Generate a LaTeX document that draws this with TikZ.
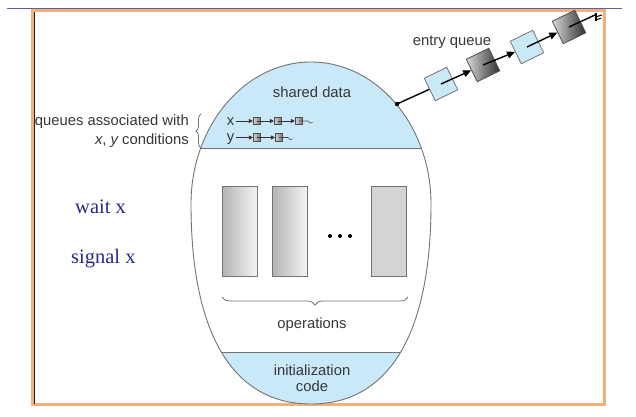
\documentclass[tikz,border=0pt]{standalone}
\usepackage{fontspec}
\newfontfamily\lsans{Liberation Sans}
\newfontfamily\lserif{Liberation Serif}
\usetikzlibrary{arrows.meta,decorations.pathreplacing}

\definecolor{shared}{RGB}{201,233,249}
\definecolor{txtgray}{RGB}{55,55,55}
\definecolor{edgegray}{RGB}{115,115,115}
\definecolor{frameorange}{RGB}{238,178,122}
\definecolor{topline}{RGB}{95,95,165}
\definecolor{navy}{RGB}{40,40,140}

\tikzset{
  lbl/.style={font=\lsans\fontsize{14.8}{16}\selectfont, text=txtgray, inner sep=0pt},
  slow/.style={font=\lserif\fontsize{20.5}{22}\selectfont, text=navy, inner sep=0pt},
  qbox/.style={draw=edgegray, fill=shared, minimum size=25pt, inner sep=0pt, rotate=26, line width=0.8pt},
  qboxdark/.style={draw=black!70, left color=black!15, right color=black!82, minimum size=25pt, inner sep=0pt, rotate=26, line width=0.8pt},
  link/.style={line width=1.4pt, black},
  ptr/.style={link, -{Triangle[length=8pt,width=7pt]}},
  tinybox/.style={draw=black!70, left color=black!18, right color=black!55, minimum size=7.5pt, inner sep=0pt, line width=0.6pt},
  tinyptr/.style={line width=0.8pt, black!80, -{Triangle[length=4pt,width=4pt]}},
  tinylink/.style={line width=0.7pt, black!70},
  opbox/.style={draw=black!55, line width=0.7pt, minimum width=35pt, minimum height=90pt, inner sep=0pt},
  gbrace/.style={decorate, draw=black!55, line width=0.8pt},
  dot/.style={circle, fill=black, inner sep=0pt, minimum size=4pt},
}

% outline of the monitor: rounder on top, blunter at the bottom
\def\monitoroutline{(311,62) .. controls (377.2,62) and (431,125.6) .. (431,204)
  .. controls (431,334) and (389,404) .. (311,404)
  .. controls (233,404) and (191,334) .. (191,204)
  .. controls (191,125.6) and (244.8,62) .. (311,62) -- cycle}

\begin{document}
\begin{tikzpicture}[x=1pt,y=-1pt]
\useasboundingbox (0,0) rectangle (636,416);
\fill[white] (0,0) rectangle (636,416);

% slide frame
\draw[frameorange, line width=2.6pt] (32.5,10.5) rectangle (604.5,404.5);
\draw[black!75!brown, line width=0.9pt] (34.4,12) -- (34.4,404);
\draw[topline, line width=1.3pt] (7,8.6) -- (622,8.6);

% monitor body
\fill[white] \monitoroutline;
\begin{scope}
  \clip \monitoroutline;
  \fill[shared] (180,50) rectangle (440,148);
  \fill[shared] (180,352) rectangle (440,410);
  \draw[edgegray, line width=0.8pt] (180,148) -- (440,148);
  \draw[edgegray, line width=0.8pt] (180,352) -- (440,352);
\end{scope}
\draw[edgegray, line width=0.9pt] \monitoroutline;

% texts inside the monitor
\node[lbl, anchor=base] (shared) at (312,97) {shared data};
\node[lbl, anchor=base] (ops) at (312,328) {operations};
\node[lbl, anchor=base] (init1) at (312,375) {initialization};
\node[lbl, anchor=base] (init2) at (312,391) {code};

% condition queues
\node[lbl, anchor=base] (xl) at (230.5,125.5) {x};
\node[lbl, anchor=base] (yl) at (230.5,141.5) {y};
\node[tinybox] (x1) at (257,121) {};
\node[tinybox] (x2) at (278,121) {};
\node[tinybox] (x3) at (299,121) {};
\node[tinybox] (y1) at (257,137.5) {};
\node[tinybox] (y2) at (279,137.5) {};
\coordinate (xend) at (308,121);
\coordinate (yend) at (288,137.5);
\draw[tinyptr, shorten <=2pt] (xl.east |- x1) -- (x1);
\draw[tinyptr] (x1.center) -- (x2);
\draw[tinyptr] (x2.center) -- (x3);
\draw[tinylink] (x3.center) -- (xend) -- ++(2,2) -- ++(2.5,-0.5);
\draw[tinyptr, shorten <=2pt] (yl.east |- y1) -- (y1);
\draw[tinyptr] (y1.center) -- (y2);
\draw[tinylink] (y2.center) -- (yend) -- ++(2,2) -- ++(2.5,-0.5);

% left-hand labels
\node[lbl, anchor=base east] (qa) at (189,125.5) {queues associated with};
\node[lbl, anchor=base east] (qc) at (189,144) {{\itshape x}, {\itshape y} conditions};
\coordinate (lb1) at (201,148);
\coordinate (lb2) at (201,114);
\draw[gbrace, decoration={brace, amplitude=5pt}] (lb1) -- (lb2);

% operations
\node[opbox, left color=black!30, right color=black!4] (op1) at (239.5,231) {};
\node[opbox, left color=black!30, right color=black!4] (op2) at (289.5,231) {};
\node[opbox, fill=black!17] (op3) at (389,231) {};
\node[dot] (d1) at (330,236) {};
\node[dot] (d2) at (340,236) {};
\node[dot] (d3) at (350,236) {};
\coordinate (bl) at (222,297);
\coordinate (br) at (408,297);
\draw[gbrace, decoration={brace, amplitude=8pt}] (br) -- (bl);

% entry queue
\node[lbl, anchor=base] (eq) at (452,45) {entry queue};
\coordinate (attach) at (397,104);
\fill (attach) circle (2.2pt);
\node[qbox] (e1) at (441,84) {};
\node[qboxdark] (e2) at (483,65) {};
\node[qbox] (e3) at (527,47) {};
\node[qboxdark] (e4) at (569,27) {};
\coordinate (tail) at (596,14.5);
\draw[link] (attach) -- (e1);
\draw[ptr] (e1.center) -- (e2);
\draw[ptr] (e2.center) -- (e3);
\draw[ptr] (e3.center) -- (e4);
\draw[link] (e4.center) -- (tail);
\draw[line width=1.2pt] (tail) ++(0,-2) -- ++(0,8);
\draw[line width=1pt] (tail) ++(1,2) -- ++(5,-1.5);
\draw[line width=1pt] (tail) ++(1,5) -- ++(4,-1.2);

% operation names
\node[slow, anchor=base west] (wait) at (75,213) {wait x};
\node[slow, anchor=base west] (signal) at (71,263) {signal x};
\end{tikzpicture}
\end{document}
